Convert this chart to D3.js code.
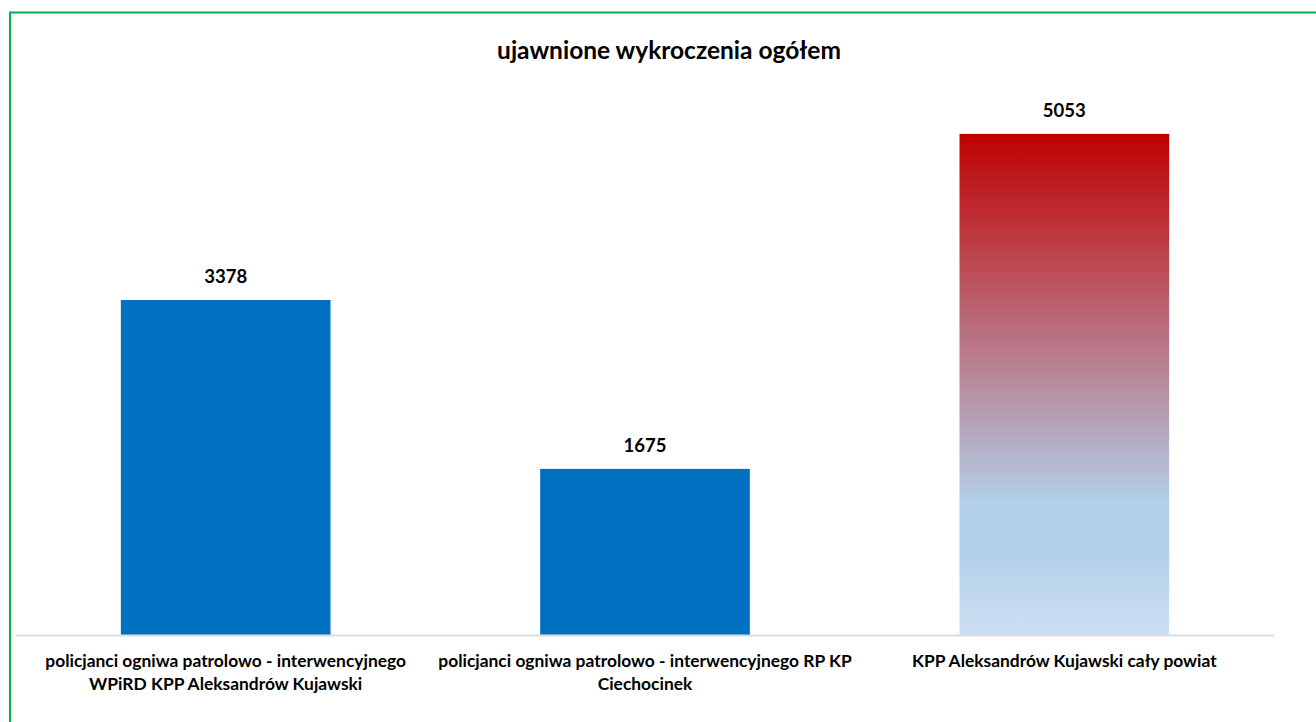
<!DOCTYPE html>
<html>
<head>
<meta charset="utf-8">
<script src="https://cdn.jsdelivr.net/npm/d3@7"></script>
<style>
  body { margin: 0; background: #fff; }
  text { font-family: Lato, "Open Sans", sans-serif; font-weight: bold; fill: #000; }
</style>
</head>
<body>
<script>
// Data
const categories = [
  "policjanci ogniwa patrolowo - interwencyjnego WPiRD KPP Aleksandrów Kujawski",
  "policjanci ogniwa patrolowo - interwencyjnego RP KP Ciechocinek",
  "KPP Aleksandrów Kujawski cały powiat"
];
// how the category labels break into lines
const labelLines = [
  ["policjanci ogniwa patrolowo - interwencyjnego", "WPiRD KPP Aleksandrów Kujawski"],
  ["policjanci ogniwa patrolowo - interwencyjnego RP KP", "Ciechocinek"],
  ["KPP Aleksandrów Kujawski cały powiat"]
];
const values = [3378, 1675, 5053];
const title = "ujawnione wykroczenia ogółem";

const width = 1316;
const height = 722;
const margin = { left: 16, right: 42, top: 40, bottom: 87 };

const svg = d3.select("body").append("svg")
  .attr("width", width)
  .attr("height", height);

// gradient for the last bar
const grad = svg.append("defs").append("linearGradient")
  .attr("id", "redBlue")
  .attr("x1", 0).attr("y1", 0).attr("x2", 0).attr("y2", 1);
grad.append("stop").attr("offset", "0").attr("stop-color", "#C00000");
grad.append("stop").attr("offset", "0.74").attr("stop-color", "#B3D0EA");
grad.append("stop").attr("offset", "0.84").attr("stop-color", "#B3D0EA");
grad.append("stop").attr("offset", "1").attr("stop-color", "#CDE0F3");

// green frame
svg.append("rect")
  .attr("x", 10).attr("y", 12.5)
  .attr("width", width + 10).attr("height", height + 10)
  .attr("fill", "none")
  .attr("stroke", "#00B050")
  .attr("stroke-width", 2);

const x = d3.scaleBand()
  .domain(categories)
  .range([margin.left, width - margin.right])
  .paddingInner(0.5)
  .paddingOuter(0.25);

const y = d3.scaleLinear()
  .domain([0, 6000])
  .range([height - margin.bottom, margin.top]);

// bars
svg.selectAll("rect.bar")
  .data(values)
  .enter().append("rect")
  .attr("class", "bar")
  .attr("x", (d, i) => x(categories[i]))
  .attr("y", d => y(d))
  .attr("width", x.bandwidth())
  .attr("height", d => y(0) - y(d))
  .attr("fill", (d, i) => i === 2 ? "url(#redBlue)" : "#0070C0");

// axis line
svg.append("line")
  .attr("x1", margin.left).attr("x2", width - margin.right)
  .attr("y1", y(0) + 0.5).attr("y2", y(0) + 0.5)
  .attr("stroke", "#D9DEE5")
  .attr("stroke-width", 2);

// value labels
svg.selectAll("text.val")
  .data(values)
  .enter().append("text")
  .attr("class", "val")
  .attr("x", (d, i) => x(categories[i]) + x.bandwidth() / 2)
  .attr("y", d => y(d) - 17)
  .attr("text-anchor", "middle")
  .style("font-size", "18.5px")
  .text(d => d);

// category labels
const labels = svg.selectAll("text.cat")
  .data(categories)
  .enter().append("text")
  .attr("class", "cat")
  .attr("text-anchor", "middle")
  .style("font-size", "17.4px")
  .attr("x", d => x(d) + x.bandwidth() / 2)
  .attr("y", 667);

labels.selectAll("tspan")
  .data((d, i) => labelLines[i].map(t => ({ t, cx: x(d) + x.bandwidth() / 2 })))
  .enter().append("tspan")
  .attr("x", d => d.cx)
  .attr("dy", (d, j) => j === 0 ? 0 : 23)
  .text(d => d.t);

// title
svg.append("text")
  .attr("x", 669)
  .attr("y", 59)
  .attr("text-anchor", "middle")
  .style("font-size", "24.5px")
  .text(title);
</script>
</body>
</html>
